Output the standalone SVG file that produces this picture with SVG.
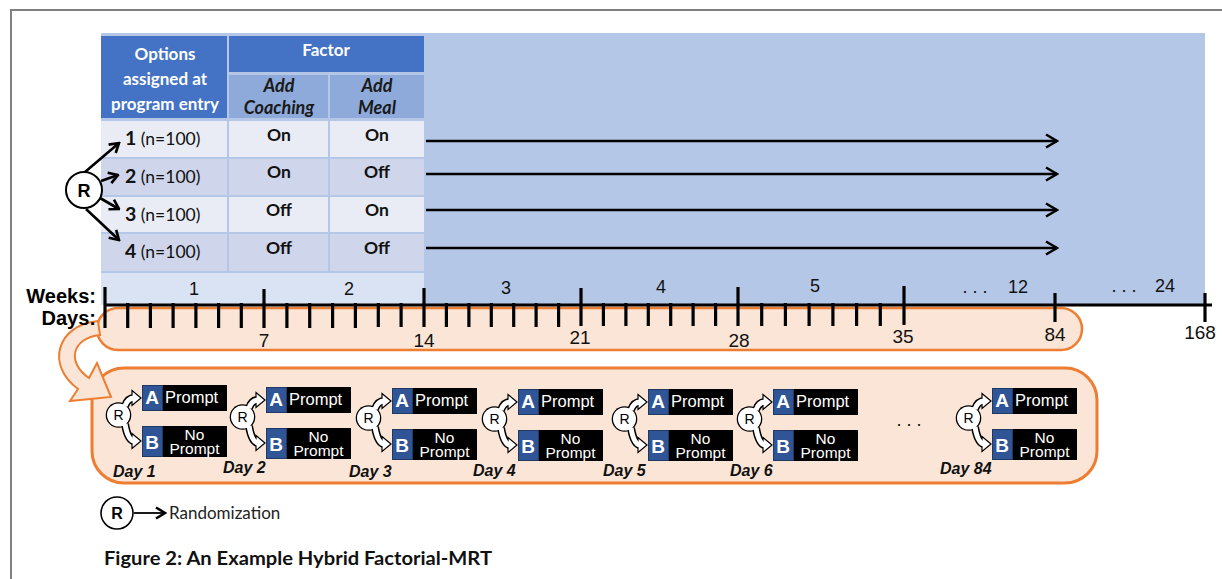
<svg xmlns="http://www.w3.org/2000/svg" xmlns:xlink="http://www.w3.org/1999/xlink" width="1222" height="579" viewBox="0 0 1222 579">
<style>
.cal{font-family:Lato,"Open Sans","Liberation Sans",sans-serif}
.ar{font-family:"Liberation Sans",Arial,sans-serif}
.hd{font-weight:bold;fill:#fff;font-size:17px;text-anchor:middle}
.sh{font-weight:bold;font-style:italic;fill:#1a1a1a;font-size:18px;text-anchor:middle}
.cell{font-weight:bold;fill:#111;font-size:17.5px;text-anchor:middle}
.rowl{font-size:17.5px;fill:#111}
.wk{font-size:18px;fill:#111;text-anchor:middle}
.dy{font-size:19px;fill:#111;text-anchor:middle}
.lbl{font-size:20px;font-weight:bold;fill:#000;text-anchor:end}
.tk{stroke:#000;stroke-width:3.2}
.arr{stroke:#000;stroke-width:2.6;fill:none}
.ab{font-weight:bold;font-size:19px;fill:#fff;text-anchor:middle}
.pr{font-size:16.5px;fill:#fff}
.np{font-size:15.5px;fill:#fff;text-anchor:middle}
.day{font-weight:bold;font-style:italic;font-size:16px;fill:#111}
.rr{font-size:14px;text-anchor:middle;fill:#000}
</style>
<defs>
<marker id="chev" viewBox="0 0 14 16" refX="12.5" refY="8" markerWidth="14" markerHeight="16" markerUnits="userSpaceOnUse" orient="auto">
<path d="M1.5,1.5 L12.5,8 L1.5,14.5" fill="none" stroke="#000" stroke-width="2.6"/>
</marker>
<marker id="chevs" viewBox="0 0 12 14" refX="10.5" refY="7" markerWidth="12" markerHeight="14" markerUnits="userSpaceOnUse" orient="auto">
<path d="M1.5,1.5 L10.5,7 L1.5,12.5" fill="none" stroke="#000" stroke-width="2.6"/>
</marker>
<g id="ricon">
<circle cx="-23.5" cy="30" r="12.8" fill="#000"/>
<path d="M-17,21 Q-14,12.5 -7,13" fill="none" stroke="#000" stroke-width="8"/>
<path d="M-17,39 Q-14,56.5 -7,56" fill="none" stroke="#000" stroke-width="8"/>
<polygon points="-10,5.5 -1,13 -10,20.5" fill="#fff" stroke="#000" stroke-width="1.2"/>
<polygon points="-10,48.5 -1,56 -10,63.5" fill="#fff" stroke="#000" stroke-width="1.2"/>
<circle cx="-23.5" cy="30" r="11.5" fill="#fff"/>
<path d="M-17,21 Q-14,12.5 -7,13" fill="none" stroke="#fff" stroke-width="5"/>
<path d="M-17,39 Q-14,56.5 -7,56" fill="none" stroke="#fff" stroke-width="5"/>
</g>
<g id="boxes">
<rect x="0" y="0" width="85" height="26" fill="#000"/>
<rect x="0.5" y="0.5" width="20" height="25" fill="#2f5597" stroke="#1f3864" stroke-width="1"/>
<rect x="0" y="41" width="85" height="31" fill="#000"/>
<rect x="0.5" y="41.5" width="20" height="30" fill="#2f5597" stroke="#1f3864" stroke-width="1"/>
</g>
</defs>

<rect x="0" y="0" width="1222" height="579" fill="#fff"/>
<rect x="11" y="10" width="1230" height="600" fill="none" stroke="#808080" stroke-width="2"/>

<!-- blue background -->
<rect x="101" y="33" width="1104" height="272" fill="#b4c7e7"/>

<!-- table -->
<g id="table" class="cal">
<rect x="101" y="36" width="126" height="82" fill="#4472c4"/>
<rect x="229" y="36" width="195" height="36" fill="#4472c4"/>
<rect x="229" y="75" width="99" height="43" fill="#8eaadb"/>
<rect x="330" y="75" width="94" height="43" fill="#8eaadb"/>
<rect x="101" y="121" width="126" height="36" fill="#e9ecf5"/>
<rect x="229" y="121" width="99" height="36" fill="#e9ecf5"/>
<rect x="330" y="121" width="94" height="36" fill="#e9ecf5"/>
<rect x="101" y="159" width="126" height="36" fill="#cfd5ea"/>
<rect x="229" y="159" width="99" height="36" fill="#cfd5ea"/>
<rect x="330" y="159" width="94" height="36" fill="#cfd5ea"/>
<rect x="101" y="197" width="126" height="35" fill="#e9ecf5"/>
<rect x="229" y="197" width="99" height="35" fill="#e9ecf5"/>
<rect x="330" y="197" width="94" height="35" fill="#e9ecf5"/>
<rect x="101" y="234" width="126" height="37" fill="#cfd5ea"/>
<rect x="229" y="234" width="99" height="37" fill="#cfd5ea"/>
<rect x="330" y="234" width="94" height="37" fill="#cfd5ea"/>
<rect x="101" y="273" width="323" height="32" fill="#dae3f3"/>
<text class="hd" x="165" y="60">Options</text>
<text class="hd" x="165" y="85">assigned at</text>
<text class="hd" x="165" y="110">program entry</text>
<text class="hd" x="326" y="56">Factor</text>
<text class="sh" x="279" y="92">Add</text>
<text class="sh" x="279" y="114">Coaching</text>
<text class="sh" x="377" y="92">Add</text>
<text class="sh" x="377" y="114">Meal</text>
<text class="cell" x="279" y="141">On</text>
<text class="cell" x="377" y="141">On</text>
<text class="cell" x="279" y="178">On</text>
<text class="cell" x="377" y="178">Off</text>
<text class="cell" x="279" y="216">Off</text>
<text class="cell" x="377" y="216">On</text>
<text class="cell" x="279" y="254">Off</text>
<text class="cell" x="377" y="254">Off</text>
<text class="rowl" x="125" y="145"><tspan font-weight="bold" font-size="19.5px">1</tspan> (n=100)</text>
<text class="rowl" x="125" y="183"><tspan font-weight="bold" font-size="19.5px">2</tspan> (n=100)</text>
<text class="rowl" x="125" y="221"><tspan font-weight="bold" font-size="19.5px">3</tspan> (n=100)</text>
<text class="rowl" x="125" y="258"><tspan font-weight="bold" font-size="19.5px">4</tspan> (n=100)</text>
</g>

<!-- randomization node -->
<g id="rand-node">
<circle cx="84" cy="190" r="18" fill="#fff" stroke="#000" stroke-width="2"/>
<text class="ar" x="84" y="197" font-size="18" font-weight="bold" text-anchor="middle">R</text>
</g>

<!-- connectors -->
<g id="connectors">
<line class="arr" x1="85" y1="172" x2="119" y2="143" marker-end="url(#chevs)"/>
<line class="arr" x1="101" y1="181" x2="118" y2="175" marker-end="url(#chevs)"/>
<line class="arr" x1="100" y1="198" x2="119" y2="209" marker-end="url(#chevs)"/>
<line class="arr" x1="86" y1="209" x2="119" y2="240" marker-end="url(#chevs)"/>
<line class="arr" x1="426" y1="141" x2="1057" y2="141" marker-end="url(#chev)"/>
<line class="arr" x1="426" y1="174" x2="1057" y2="174" marker-end="url(#chev)"/>
<line class="arr" x1="426" y1="210" x2="1057" y2="210" marker-end="url(#chev)"/>
<line class="arr" x1="426" y1="248" x2="1057" y2="248" marker-end="url(#chev)"/>
</g>

<!-- day bar -->
<g id="day-bar">
<rect x="97" y="308" width="985" height="42" rx="21" fill="#fbe5d6" stroke="#ed7d31" stroke-width="2.5"/>
</g>

<!-- lower MRT box -->
<g id="mrt-box">
<rect x="92" y="368" width="1005" height="115" rx="32" fill="#fbe5d6" stroke="#ed7d31" stroke-width="3"/>
</g>

<!-- curved block arrow -->
<g id="zoom-arrow">
<path d="M98,321 C56,325 46,366 78,389 L70,401 L111,397 L97,363 L89,378 C66,362 72,338 100,335 Z" fill="#fbe5d6" stroke="#ed7d31" stroke-width="2"/>
</g>

<!-- timeline -->
<g id="timeline" class="ar">
<line x1="105" y1="305" x2="1212" y2="305" stroke="#000" stroke-width="3.2"/>
<g class="tk">
<line x1="105" y1="287" x2="105" y2="328"/>
<line x1="264" y1="289" x2="264" y2="328"/>
<line x1="424" y1="288" x2="424" y2="327"/>
<line x1="581" y1="288" x2="581" y2="326"/>
<line x1="738" y1="287" x2="738" y2="326"/>
<line x1="904" y1="286" x2="904" y2="325"/>
<line x1="1055" y1="293" x2="1055" y2="322"/>
<line x1="1205" y1="293" x2="1205" y2="322"/>
<line x1="127.7" y1="303" x2="127.7" y2="328"/>
<line x1="150.4" y1="303" x2="150.4" y2="328"/>
<line x1="173.1" y1="303" x2="173.1" y2="328"/>
<line x1="195.9" y1="303" x2="195.9" y2="328"/>
<line x1="218.6" y1="303" x2="218.6" y2="328"/>
<line x1="241.3" y1="303" x2="241.3" y2="328"/>
<line x1="286.9" y1="303" x2="286.9" y2="328"/>
<line x1="309.7" y1="303" x2="309.7" y2="328"/>
<line x1="332.6" y1="303" x2="332.6" y2="328"/>
<line x1="355.4" y1="303" x2="355.4" y2="328"/>
<line x1="378.3" y1="303" x2="378.3" y2="327"/>
<line x1="401.1" y1="303" x2="401.1" y2="327"/>
<line x1="446.4" y1="303" x2="446.4" y2="327"/>
<line x1="468.9" y1="303" x2="468.9" y2="327"/>
<line x1="491.3" y1="303" x2="491.3" y2="327"/>
<line x1="513.7" y1="303" x2="513.7" y2="327"/>
<line x1="536.1" y1="303" x2="536.1" y2="327"/>
<line x1="558.6" y1="303" x2="558.6" y2="327"/>
<line x1="603.4" y1="303" x2="603.4" y2="326"/>
<line x1="625.9" y1="303" x2="625.9" y2="326"/>
<line x1="648.3" y1="303" x2="648.3" y2="326"/>
<line x1="670.7" y1="303" x2="670.7" y2="326"/>
<line x1="693.1" y1="303" x2="693.1" y2="326"/>
<line x1="715.6" y1="303" x2="715.6" y2="326"/>
<line x1="761.7" y1="303" x2="761.7" y2="326"/>
<line x1="785.4" y1="303" x2="785.4" y2="326"/>
<line x1="809.1" y1="303" x2="809.1" y2="326"/>
<line x1="832.9" y1="303" x2="832.9" y2="326"/>
<line x1="856.6" y1="303" x2="856.6" y2="326"/>
<line x1="880.3" y1="303" x2="880.3" y2="326"/>
</g>
<text class="wk" x="194" y="295">1</text>
<text class="wk" x="349" y="295">2</text>
<text class="wk" x="506" y="294">3</text>
<text class="wk" x="661" y="293">4</text>
<text class="wk" x="815" y="292">5</text>
<text class="wk" x="975" y="293">. . .</text>
<text class="wk" x="1018" y="293">12</text>
<text class="wk" x="1124" y="292">. . .</text>
<text class="wk" x="1165" y="292">24</text>
<text class="dy" x="264" y="347">7</text>
<text class="dy" x="424" y="347">14</text>
<text class="dy" x="580" y="344">21</text>
<text class="dy" x="739" y="347">28</text>
<text class="dy" x="903" y="343">35</text>
<text class="dy" x="1055" y="341">84</text>
<text class="dy" x="1200" y="339">168</text>
<text class="lbl" x="96" y="303">Weeks:</text>
<text class="lbl" x="96" y="325">Days:</text>
</g>

<!-- day units -->
<g id="day1" class="ar">
<use href="#ricon" x="142" y="385"/>
<text class="rr" x="118.5" y="420">R</text>
<use href="#boxes" x="142" y="385"/>
<text class="ab" x="152" y="404">A</text><text class="pr" x="165" y="403">Prompt</text>
<text class="ab" x="152" y="449">B</text>
<text class="np"><tspan x="194.5" y="440">No</tspan><tspan x="194.5" y="454">Prompt</tspan></text>
<text class="day" x="113" y="477">Day 1</text>
</g>
<g id="day2" class="ar">
<use href="#ricon" x="266" y="387"/>
<text class="rr" x="242.5" y="422">R</text>
<use href="#boxes" x="266" y="387"/>
<text class="ab" x="276" y="406">A</text><text class="pr" x="289" y="405">Prompt</text>
<text class="ab" x="276" y="451">B</text>
<text class="np"><tspan x="318.5" y="442">No</tspan><tspan x="318.5" y="456">Prompt</tspan></text>
<text class="day" x="223" y="473">Day 2</text>
</g>
<g id="day3" class="ar">
<use href="#ricon" x="392" y="388"/>
<text class="rr" x="368.5" y="423">R</text>
<use href="#boxes" x="392" y="388"/>
<text class="ab" x="402" y="407">A</text><text class="pr" x="415" y="406">Prompt</text>
<text class="ab" x="402" y="452">B</text>
<text class="np"><tspan x="444.5" y="443">No</tspan><tspan x="444.5" y="457">Prompt</tspan></text>
<text class="day" x="349" y="477">Day 3</text>
</g>
<g id="day4" class="ar">
<use href="#ricon" x="518" y="389"/>
<text class="rr" x="494.5" y="424">R</text>
<use href="#boxes" x="518" y="389"/>
<text class="ab" x="528" y="408">A</text><text class="pr" x="541" y="407">Prompt</text>
<text class="ab" x="528" y="453">B</text>
<text class="np"><tspan x="570.5" y="444">No</tspan><tspan x="570.5" y="458">Prompt</tspan></text>
<text class="day" x="473" y="476">Day 4</text>
</g>
<g id="day5" class="ar">
<use href="#ricon" x="648" y="389"/>
<text class="rr" x="624.5" y="424">R</text>
<use href="#boxes" x="648" y="389"/>
<text class="ab" x="658" y="408">A</text><text class="pr" x="671" y="407">Prompt</text>
<text class="ab" x="658" y="453">B</text>
<text class="np"><tspan x="700.5" y="444">No</tspan><tspan x="700.5" y="458">Prompt</tspan></text>
<text class="day" x="603" y="476">Day 5</text>
</g>
<g id="day6" class="ar">
<use href="#ricon" x="773" y="389"/>
<text class="rr" x="749.5" y="424">R</text>
<use href="#boxes" x="773" y="389"/>
<text class="ab" x="783" y="408">A</text><text class="pr" x="796" y="407">Prompt</text>
<text class="ab" x="783" y="453">B</text>
<text class="np"><tspan x="825.5" y="444">No</tspan><tspan x="825.5" y="458">Prompt</tspan></text>
<text class="day" x="730" y="476">Day 6</text>
</g>
<text class="ar" x="909" y="426" font-size="18" text-anchor="middle" fill="#111">. . .</text>
<g id="day84" class="ar">
<use href="#ricon" x="992" y="388"/>
<text class="rr" x="968.5" y="423">R</text>
<use href="#boxes" x="992" y="388"/>
<text class="ab" x="1002" y="407">A</text><text class="pr" x="1015" y="406">Prompt</text>
<text class="ab" x="1002" y="452">B</text>
<text class="np"><tspan x="1044.5" y="443">No</tspan><tspan x="1044.5" y="457">Prompt</tspan></text>
<text class="day" x="940" y="474">Day 84</text>
</g>

<!-- legend -->
<g id="legend">
<circle cx="117" cy="513" r="16" fill="#fff" stroke="#000" stroke-width="1.6"/>
<text class="ar" x="117" y="519" font-size="16" font-weight="bold" text-anchor="middle">R</text>
<line x1="134" y1="513" x2="165" y2="513" stroke="#000" stroke-width="1.8" marker-end="url(#chevs)"/>
<text class="cal" x="169" y="519" font-size="17" fill="#222">Randomization</text>
</g>

<g id="caption">
<text class="cal" x="104" y="565" font-size="19" font-weight="bold" fill="#111" textLength="388" lengthAdjust="spacingAndGlyphs">Figure 2: An Example Hybrid Factorial-MRT</text>
</g>
</svg>
